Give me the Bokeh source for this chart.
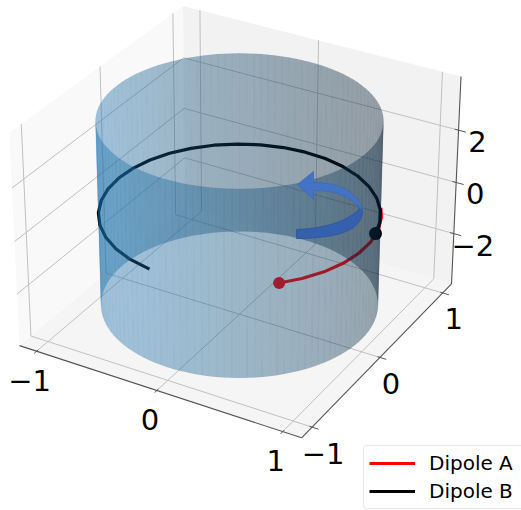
import numpy as np
from bokeh.plotting import figure
from bokeh.models import Range1d, Legend, LegendItem
from bokeh.core.properties import value
from bokeh.embed import file_html
from bokeh.resources import INLINE

# ---- chart data -------------------------------------------------------
x_ticks = [-1, 0, 1]
y_ticks = [-1, 0, 1]
z_ticks = [-2, 0, 2]
x_labels = ["\u22121", "0", "1"]
y_labels = ["\u22121", "0", "1"]
z_labels = ["\u22122", "0", "2"]
series_names = ["Dipole A", "Dipole B"]
# angular position (degrees) of each dipole tip read round the ring
dipole_a_angle = [-44.5, -35, -25, -15, -5, 5, 15, 25, 33]
dipole_b_angle = [12, 21, 31, 41, 51, 61, 71, 81, 91, 101, 111, 121, 131, 141, 151,
                  161, 171, 181, 191, 201, 211, 221, 231, 241, 251, 262]
dipole_a_radius = 1.006
dipole_b_radius = 1.0
ring_height = 0.0
cylinder_radius = 1.0
cylinder_z = [-3.5, 3.5]

# ---- view (matplotlib's default 3-D camera) ---------------------------
W, H = 521, 510
ELEV, AZIM, DIST = np.radians(30), np.radians(-60), 10.0
LX, LZ = 1.146, 4.01
HALF = np.array([0.595, 0.595, 0.4465])
SCALE, X0, Y0 = 2716.0, 239.0, 211.0
U = np.array([-np.sin(AZIM), np.cos(AZIM), 0.0])
V = np.array([-np.sin(ELEV)*np.cos(AZIM), -np.sin(ELEV)*np.sin(AZIM), np.cos(ELEV)])
N = np.array([np.cos(ELEV)*np.cos(AZIM), np.cos(ELEV)*np.sin(AZIM), np.sin(ELEV)])


def project(x, y, z):
    x, y, z = np.broadcast_arrays(np.asarray(x, float), np.asarray(y, float), np.asarray(z, float))
    p = np.stack([x/LX*HALF[0], y/LX*HALF[1], z/LZ*HALF[2]], axis=-1)
    w = DIST - p @ N
    return X0 + SCALE*(p @ U)/w, Y0 - SCALE*(p @ V)/w


def depth(x, y, z):
    return x/LX*HALF[0]*N[0] + y/LX*HALF[1]*N[1] + z/LZ*HALF[2]*N[2]


p = figure(width=W, height=H, x_range=Range1d(0, W), y_range=Range1d(H, 0),
           output_backend="svg", toolbar_location=None, min_border=0,
           outline_line_color=None, background_fill_color="white",
           border_fill_color="white")
p.axis.visible = False
p.xgrid.visible = False
p.ygrid.visible = False

# ---- panes ------------------------------------------------------------
def pane(xs, ys, zs, color):
    sx, sy = project(xs, ys, zs)
    p.patch(list(sx), list(sy), fill_color=color, line_color=None)

pane([-LX, -LX, -LX, -LX], [-LX, LX, LX, -LX], [-LZ, -LZ, LZ, LZ], "#f9f9f9")
pane([-LX, LX, LX, -LX], [LX, LX, LX, LX], [-LZ, -LZ, LZ, LZ], "#f2f2f2")
pane([-LX, LX, LX, -LX], [-LX, -LX, LX, LX], [-LZ, -LZ, -LZ, -LZ], "#f5f5f5")

# ---- grid -------------------------------------------------------------
GRID = dict(line_color="#c0c0c0", line_width=1)
def seg(a, b, **kw):
    sx, sy = project([a[0], b[0]], [a[1], b[1]], [a[2], b[2]])
    p.line(list(sx), list(sy), **kw)

for t in x_ticks:
    seg((t, -LX, -LZ), (t, LX, -LZ), **GRID)
    seg((t, LX, -LZ), (t, LX, LZ), **GRID)
for t in y_ticks:
    seg((-LX, t, -LZ), (LX, t, -LZ), **GRID)
    seg((-LX, t, -LZ), (-LX, t, LZ), **GRID)
for t in z_ticks:
    seg((-LX, -LX, t), (-LX, LX, t), **GRID)
    seg((-LX, LX, t), (LX, LX, t), **GRID)

# ---- axis lines, ticks ------------------------------------------------
AX = dict(line_color="#555555", line_width=1.1)
seg((-LX, -LX, -LZ), (LX, -LX, -LZ), **AX)
seg((LX, -LX, -LZ), (LX, LX, -LZ), **AX)
seg((LX, LX, -LZ), (LX, LX, LZ), **AX)
TK = dict(line_color="#555555", line_width=1)
for t in x_ticks:
    seg((t, -LX+0.02, -LZ), (t, -LX-0.03, -LZ), **TK)
for t in y_ticks:
    seg((LX-0.02, t, -LZ), (LX+0.05, t, -LZ), **TK)
for t in z_ticks:
    seg((LX-0.03, LX, t), (LX+0.06, LX, t), **TK)

# ---- tick labels ------------------------------------------------------
def labels(pos, txt, dx, dy):
    sx, sy = pos
    p.text(list(sx+dx), list(sy+dy), text=txt, text_font=value("DejaVu Sans"),
           text_font_size="29px", text_align="center", text_baseline="middle",
           text_color="black")

t = np.array(x_ticks, float)
labels(project(t, -LX, -LZ), x_labels, -7, 29)
t = np.array(y_ticks, float)
labels(project(LX, t, -LZ), y_labels, 11, 26)
t = np.array(z_ticks, float)
labels(project(LX, LX, t), z_labels, 19, 11.5)

# ---- dipole traces (under the translucent surface) --------------------
ta = np.radians(dipole_a_angle)
tb = np.radians(dipole_b_angle)
ax_, ay_ = project(dipole_a_radius*np.cos(ta), dipole_a_radius*np.sin(ta), ring_height)
bx_, by_ = project(dipole_b_radius*np.cos(tb), dipole_b_radius*np.sin(tb), ring_height)
line_a = p.line(list(ax_), list(ay_), line_color="red", line_width=3.2, line_join="round")
line_b = p.line(list(bx_), list(by_), line_color="black", line_width=3.2, line_join="round")
p.scatter([ax_[0]], [ay_[0]], size=12, fill_color="red", line_color=None)
p.scatter([bx_[0]], [by_[0]], size=13, fill_color="black", line_color=None)

# ---- cylinder: translucent facets sorted back to front ---------------
edges = np.radians(np.arange(0, 360.01, 3.0))
BASE = np.array([31, 119, 180], float)
light = np.array([-2/3, -2/3, 1/3])
quads = []
for a0, a1 in zip(edges[:-1], edges[1:]):
    mid = (a0+a1)/2
    cx, cy = cylinder_radius*np.cos(mid), cylinder_radius*np.sin(mid)
    dep = depth(cx, cy, 0.0)
    xs3 = cylinder_radius*np.array([np.cos(a0), np.cos(a1), np.cos(a1), np.cos(a0)])
    ys3 = cylinder_radius*np.array([np.sin(a0), np.sin(a1), np.sin(a1), np.sin(a0)])
    zs3 = np.array([cylinder_z[0], cylinder_z[0], cylinder_z[1], cylinder_z[1]])
    sx, sy = project(xs3, ys3, zs3)
    shade = 0.65 + 0.35*(np.cos(mid)*light[0] + np.sin(mid)*light[1])
    c = (BASE*shade).astype(int)
    quads.append((dep, list(sx), list(sy), "#%02x%02x%02x" % tuple(c)))
quads.sort(key=lambda q: q[0])
cols = [q[3] for q in quads]
p.patches([q[1] for q in quads], [q[2] for q in quads],
          fill_color=cols, fill_alpha=0.4, line_color=cols, line_alpha=0.4, line_width=0.1)

# ---- curved block arrow annotation -----------------------------------
def bez(p0, c, p1, n=24):
    s = np.linspace(0, 1, n)[:, None]
    a, b, e = np.array(p0, float), np.array(c, float), np.array(p1, float)
    return (1-s)**2*a + 2*s*(1-s)*b + s**2*e

band = np.vstack([bez((296, 229), (342, 227), (360, 207)),
                  bez((362, 210), (362, 238), (296, 238))])
p.patch(list(band[:, 0]), list(band[:, 1]), fill_color="#3560ad", line_color="#2f5597", line_width=0.8)
head = np.vstack([[(297, 184), (313, 171)],
                  bez((313, 182), (352, 182), (362, 208)),
                  bez((360, 208), (346, 190), (313, 190)),
                  [(313, 199)]])
p.patch(list(head[:, 0]), list(head[:, 1]), fill_color="#4472c4", line_color="#3f6ab8", line_width=0.8)

# ---- legend -----------------------------------------------------------
legend = Legend(items=[LegendItem(label=series_names[0], renderers=[line_a]),
                       LegendItem(label=series_names[1], renderers=[line_b])],
                location=(363, 1), orientation="vertical",
                label_text_font="DejaVu Sans", label_text_font_size="20px",
                label_text_color="black", glyph_width=46, glyph_height=20,
                label_width=100, label_height=20, label_standoff=14, spacing=4, padding=5,
                margin=0, background_fill_color="white", background_fill_alpha=0.8,
                border_line_color="#d2d2d2", border_line_width=1)
if "border_radius" in Legend.properties():
    legend.border_radius = 4
p.add_layout(legend)

open("out.html", "w").write(file_html(p, INLINE))
